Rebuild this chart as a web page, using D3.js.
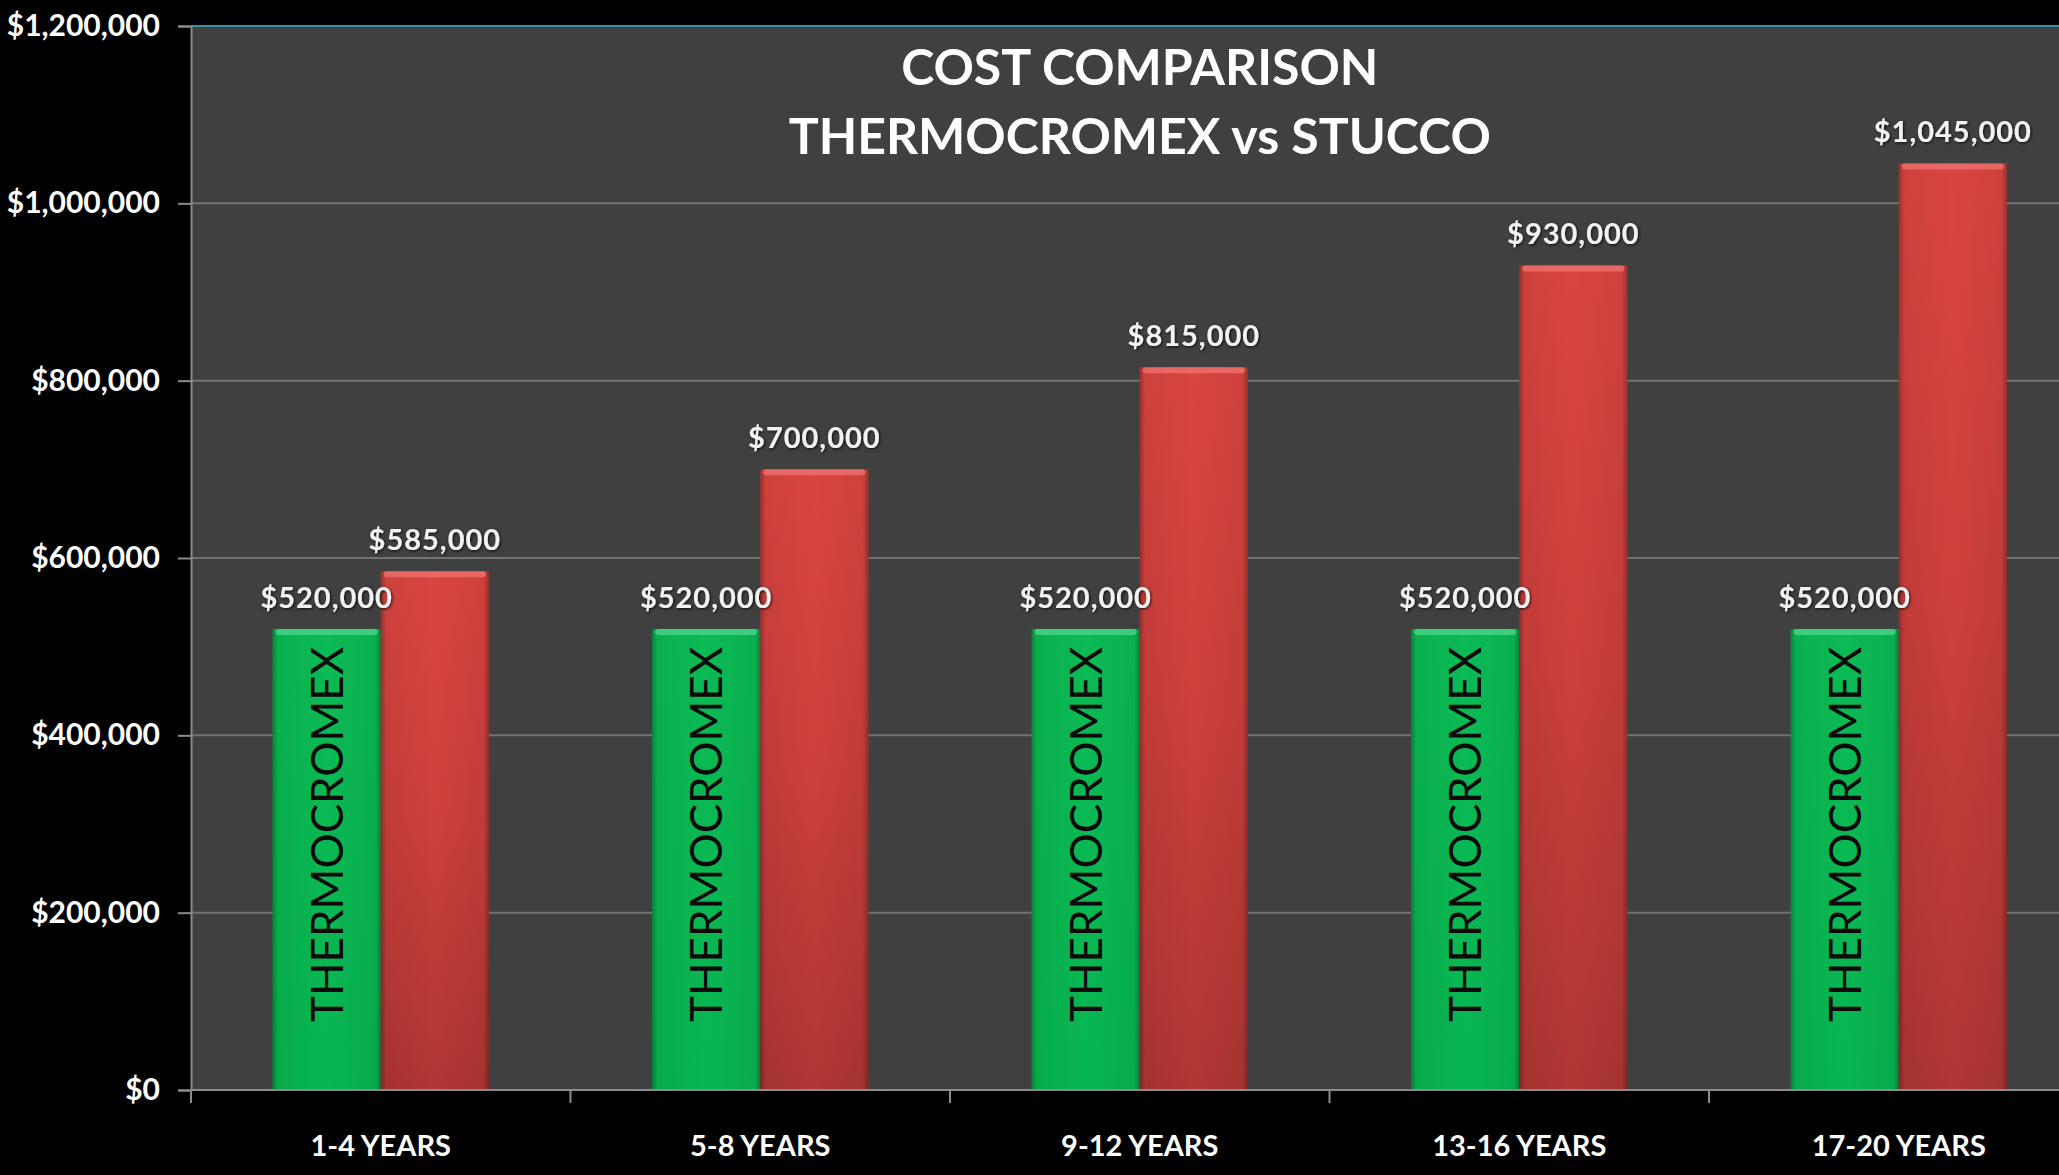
<!DOCTYPE html>
<html>
<head>
<meta charset="utf-8">
<script src="https://cdn.jsdelivr.net/npm/d3@7"></script>
<style>
  html, body { margin: 0; padding: 0; background: #000; }
  svg { display: block; }
</style>
</head>
<body>
<svg id="chart" width="2059" height="1175"></svg>
<script>
// data
var categories = ["1-4 YEARS", "5-8 YEARS", "9-12 YEARS", "13-16 YEARS", "17-20 YEARS"];
var thermoValues = [520000, 520000, 520000, 520000, 520000];
var stuccoValues = [585000, 700000, 815000, 930000, 1045000];
var yTicks = [0, 200000, 400000, 600000, 800000, 1000000, 1200000];
var titleLines = ["COST COMPARISON", "THERMOCROMEX vs STUCCO"];
var barText = "THERMOCROMEX";

(function draw(){
	var svg = d3.select("#chart");

	var plotLeft = 191, plotTop = 26, plotBottom = 1090, plotRight = 191 + 5 * 379.5;
	var font = "Lato, 'Open Sans', sans-serif";

	var x0 = d3.scaleBand()
		.domain(categories)
		.range([plotLeft, plotRight])
		.paddingInner(0.43)
		.paddingOuter(0.215);

	var x1 = d3.scaleBand()
		.domain(["thermo", "stucco"])
		.range([0, x0.bandwidth()]);

	var y = d3.scaleLinear()
		.domain([0, 1200000])
		.range([plotBottom, plotTop]);

	var money = function(d){ return "$" + d3.format(",")(d); };

	// gradients for the bevelled bars
	var defs = svg.append("defs");
	function vGrad(id, stops){
		var g = defs.append("linearGradient").attr("id", id)
			.attr("x1", 0).attr("y1", 0).attr("x2", 0).attr("y2", 1);
		stops.forEach(function(s){ g.append("stop").attr("offset", s[0]).attr("stop-color", s[1]); });
	}
	function hGrad(id, stops){
		var g = defs.append("linearGradient").attr("id", id)
			.attr("x1", 0).attr("y1", 0).attr("x2", 1).attr("y2", 0);
		stops.forEach(function(s){ g.append("stop").attr("offset", s[0]).attr("stop-color", s[1][0]).attr("stop-opacity", s[1][1]); });
	}
	vGrad("redFill", [[0, "#da4541"], [0.5, "#cc3f3c"], [1, "#ae3633"]]);
	vGrad("greenFill", [[0, "#0bbb55"], [1, "#08b651"]]);
	hGrad("edgeShade", [[0, ["#000", 0.3]], [0.05, ["#000", 0.06]], [0.5, ["#000", 0]], [0.95, ["#000", 0.06]], [1, ["#000", 0.3]]]);

	var glow = defs.append("filter").attr("id", "glow")
		.attr("x", "-10%").attr("y", "-30%").attr("width", "120%").attr("height", "160%");
	glow.append("feDropShadow").attr("dx", 1).attr("dy", 1).attr("stdDeviation", 1.5)
		.attr("flood-color", "#000").attr("flood-opacity", 0.8);

	// plot area
	svg.append("rect")
		.attr("x", plotLeft).attr("y", plotTop)
		.attr("width", plotRight - plotLeft).attr("height", plotBottom - plotTop)
		.attr("fill", "#404040");

	// gridlines
	svg.append("g")
		.selectAll("line")
		.data(yTicks.filter(function(d){ return d > 0; }))
		.enter().append("line")
		.attr("x1", plotLeft).attr("x2", plotRight)
		.attr("y1", function(d){ return y(d); })
		.attr("y2", function(d){ return y(d); })
		.attr("stroke", function(d){ return d === 1200000 ? "#3f8fa6" : "#727272"; })
		.attr("stroke-width", 2);

	// title
	svg.append("g")
		.selectAll("text")
		.data(titleLines)
		.enter().append("text")
		.attr("x", (plotLeft + plotRight) / 2)
		.attr("y", function(d, i){ return 85 + i * 69; })
		.attr("text-anchor", "middle")
		.attr("fill", "#fff")
		.attr("font-family", font)
		.attr("font-weight", "bold")
		.attr("font-size", 50)
		.text(function(d){ return d; });

	// bars
	var rows = categories.map(function(c, i){
		return {cat: c, vals: [{key: "thermo", v: thermoValues[i]}, {key: "stucco", v: stuccoValues[i]}]};
	});

	var groups = svg.append("g")
		.selectAll("g")
		.data(rows)
		.enter().append("g")
		.attr("transform", function(d){ return "translate(" + x0(d.cat) + ",0)"; });

	var bars = groups.selectAll("g.bar")
		.data(function(d){ return d.vals; })
		.enter().append("g")
		.attr("class", "bar");

	bars.append("rect")
		.attr("x", function(d){ return x1(d.key); })
		.attr("y", function(d){ return y(d.v); })
		.attr("width", x1.bandwidth())
		.attr("height", function(d){ return plotBottom - y(d.v); })
		.attr("fill", function(d){ return d.key === "thermo" ? "url(#greenFill)" : "url(#redFill)"; });

	bars.append("rect")
		.attr("x", function(d){ return x1(d.key); })
		.attr("y", function(d){ return y(d.v); })
		.attr("width", x1.bandwidth())
		.attr("height", function(d){ return plotBottom - y(d.v); })
		.attr("fill", "url(#edgeShade)");

	// top bevel highlight
	bars.append("rect")
		.attr("x", function(d){ return x1(d.key) + 3; })
		.attr("y", function(d){ return y(d.v); })
		.attr("width", x1.bandwidth() - 6)
		.attr("height", 6)
		.attr("rx", 3)
		.attr("fill", function(d){ return d.key === "thermo" ? "#4fd88a" : "#f07470"; })
		.attr("opacity", 0.75);

	// rotated text inside the green bars
	groups.append("text")
		.attr("transform", function(){
			return "translate(" + (x1("thermo") + x1.bandwidth() / 2) + "," + (plotBottom - 68) + ") rotate(-90)";
		})
		.attr("text-anchor", "start")
		.attr("dy", "0.36em")
		.attr("fill", "#0a0a0a")
		.attr("font-family", font)
		.attr("font-size", 44)
		.text(barText);

	// value labels, drawn after every bar so they sit on top
	var labelLayer = svg.append("g");
	rows.forEach(function(r){
		labelLayer.selectAll(null)
			.data(r.vals)
			.enter().append("text")
			.attr("x", function(d){ return x0(r.cat) + x1(d.key) + x1.bandwidth() / 2; })
			.attr("y", function(d){ return y(d.v) - 21; })
			.attr("text-anchor", "middle")
			.attr("fill", "#f2f2f2")
			.attr("font-family", font)
			.attr("font-weight", "bold")
			.attr("font-size", 29)
			.attr("letter-spacing", 1)
			.attr("filter", "url(#glow)")
			.text(function(d){ return money(d.v); });
	});

	// y axis
	var yAxis = svg.append("g")
		.attr("transform", "translate(" + plotLeft + ",0)")
		.call(d3.axisLeft(y).tickValues(yTicks).tickFormat(money).tickSize(13).tickPadding(18));
	yAxis.select(".domain").attr("stroke", "#8c8c8c").attr("stroke-width", 2);
	yAxis.selectAll(".tick line").attr("stroke", "#8c8c8c").attr("stroke-width", 2);
	yAxis.selectAll(".tick text")
		.attr("fill", "#fff")
		.attr("font-family", font)
		.attr("font-weight", "bold")
		.attr("font-size", 30);

	// x axis: labels at centres, ticks between categories
	var xAxis = svg.append("g")
		.attr("transform", "translate(0," + plotBottom + ")")
		.call(d3.axisBottom(x0).tickSize(0).tickPadding(45));
	xAxis.select(".domain").remove();
	xAxis.selectAll(".tick text")
		.attr("fill", "#fff")
		.attr("font-family", font)
		.attr("font-weight", "bold")
		.attr("font-size", 29);

	var bounds = categories.map(function(c){ return x0(c) + x0.bandwidth() / 2 - x0.step() / 2; });
	bounds.push(plotRight);
	svg.append("line")
		.attr("x1", plotLeft).attr("x2", plotRight)
		.attr("y1", plotBottom).attr("y2", plotBottom)
		.attr("stroke", "#8c8c8c").attr("stroke-width", 2);
	svg.append("g")
		.selectAll("line")
		.data(bounds)
		.enter().append("line")
		.attr("x1", function(d){ return d; }).attr("x2", function(d){ return d; })
		.attr("y1", plotBottom).attr("y2", plotBottom + 13)
		.attr("stroke", "#8c8c8c").attr("stroke-width", 2);
})();
</script>
</body>
</html>
